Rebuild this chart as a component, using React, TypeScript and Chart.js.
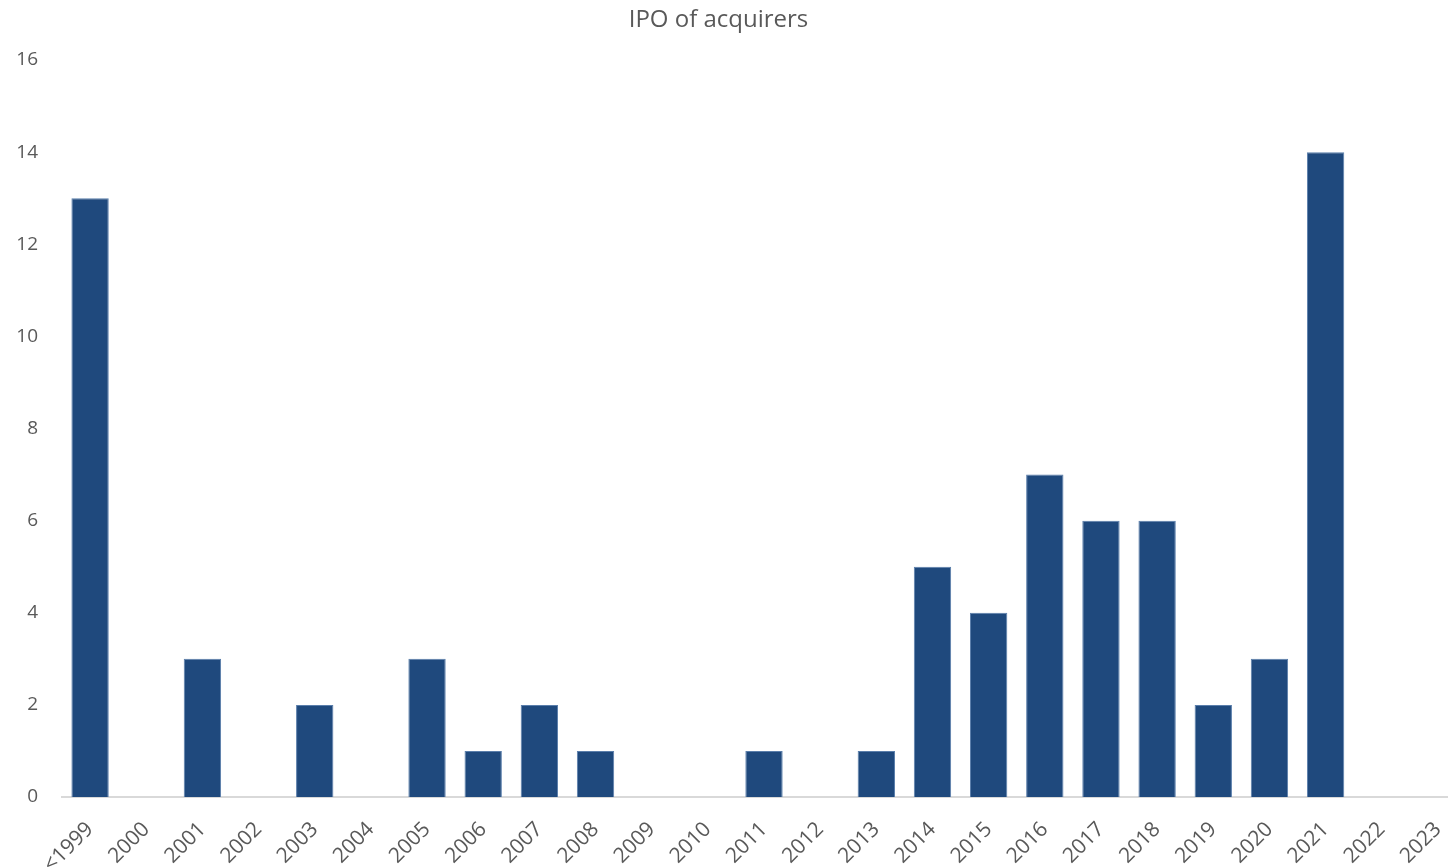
import React, { useEffect, useRef } from "react";
import { Chart, registerables } from "chart.js";

Chart.register(...registerables);

const categories = ["<1999", "2000", "2001", "2002", "2003", "2004", "2005", "2006", "2007", "2008", "2009", "2010", "2011", "2012", "2013", "2014", "2015", "2016", "2017", "2018", "2019", "2020", "2021", "2022", "2023"];
const ipoCounts = [13, 0, 3, 0, 2, 0, 3, 1, 2, 1, 0, 0, 1, 0, 1, 5, 4, 7, 6, 6, 2, 3, 14, 0, 0];
const chartTitle = "IPO of acquirers";

export default function App() {
  const ref = useRef<HTMLCanvasElement | null>(null);
  useEffect(() => {
    document.body.style.margin = "0";
    document.body.style.overflow = "hidden";
    const canvas = ref.current;
    if (!canvas) return;
    const chart = new Chart(canvas, {
      type: "bar",
      data: {
        labels: categories,
        datasets: [
          {
            data: ipoCounts,
            backgroundColor: "#1f497d",
            borderColor: "#5a7eab",
            borderWidth: 1,
            barPercentage: 0.665,
            categoryPercentage: 1,
          },
        ],
      },
      options: {
        responsive: false,
        animation: false,
        layout: { padding: { left: 0, right: 0, top: 60, bottom: 0 } },
        plugins: {
          legend: { display: false },
          tooltip: { enabled: false },
          title: { display: false },
        },
        scales: {
          x: {
            grid: { display: false, drawTicks: false },
            border: { display: true, color: "#d9d9d9", width: 2 },
            ticks: {
              color: "#595959",
              font: { family: "'Open Sans', sans-serif", size: 21 },
              minRotation: 45,
              maxRotation: 45,
              autoSkip: false,
              padding: 20,
            },
            afterFit: (scale: any) => {
              scale.height = 71;
              scale.paddingRight = 0;
            },
          },
          y: {
            min: 0,
            max: 16,
            grid: { display: false, drawTicks: false },
            border: { display: false },
            ticks: {
              stepSize: 2,
              color: "#595959",
              font: { family: "'Open Sans', sans-serif", size: 19 },
              padding: 24,
            },
            afterFit: (scale: any) => {
              scale.width = 62;
            },
          },
        },
      },
    });
    return () => chart.destroy();
  }, []);
  return (
    <div style={{ position: "relative", width: 1448, height: 868, overflow: "hidden" }}>
      <div
        style={{
          position: "absolute",
          left: 0,
          top: 2,
          width: 1437,
          textAlign: "center",
          fontFamily: "'Open Sans', sans-serif",
          fontSize: 24,
          lineHeight: "32px",
          color: "#595959",
        }}
      >
        {chartTitle}
      </div>
      <canvas ref={ref} width={1466} height={868} style={{ display: "block" }} />
    </div>
  );
}
